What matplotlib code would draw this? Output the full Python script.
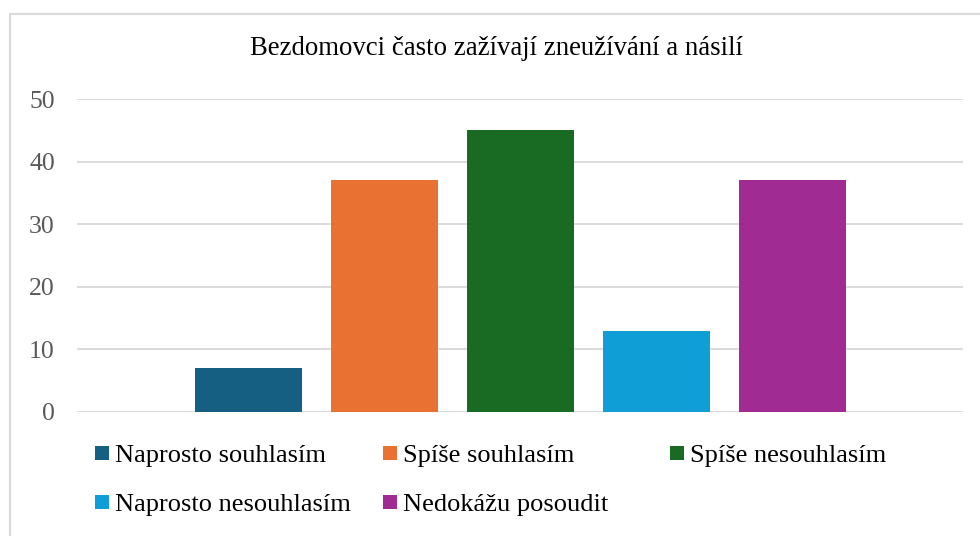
import matplotlib.pyplot as plt
from matplotlib.patches import Rectangle

plt.rcParams['font.family'] = ['Liberation Serif', 'DejaVu Serif']

# data
title = 'Bezdomovci často zažívají zneužívání a násilí'
labels = ['Naprosto souhlasím', 'Spíše souhlasím', 'Spíše nesouhlasím',
          'Naprosto nesouhlasím', 'Nedokážu posoudit']
values = [7, 37, 45, 13, 37]
colors = ['#156082', '#E97132', '#196B24', '#0F9ED5', '#A02B93']
yticks = [0, 10, 20, 30, 40, 50]

W, H = 980, 536
fig = plt.figure(figsize=(W / 100, H / 100), dpi=100)

# chart frame (clipped at right and bottom like the reference)
fig.patches.append(Rectangle((10 / W, -0.1), 1.2, 1 - 14 / H + 0.1,
                             transform=fig.transFigure, fill=False,
                             edgecolor='#d9d9d9', linewidth=1.5))

ax = fig.add_axes([77 / W, 1 - 412 / H, (963 - 77) / W, (412 - 99) / H])
x = list(range(len(values)))
ax.bar(x, values, width=107 / 136, color=colors, zorder=3)
ax.set_xlim(-1.26, 5.25)
ax.set_ylim(0, 50)
ax.set_yticks(yticks)
ax.set_yticklabels([str(t) for t in yticks], fontsize=18.5, color='#595959')
ax.tick_params(axis='y', length=0, pad=16)
ax.set_xticks([])
ax.grid(axis='y', color='#d9d9d9', linewidth=1.3, zorder=0)
for s in ax.spines.values():
    s.set_visible(False)

fig.text(0.5 * (248 + 745) / W, 1 - 55 / H, title, ha='center', va='baseline',
         fontsize=19.3, color='#000000')

# legend, Excel style with equal column widths
col_x = [95, 383, 670]
row_y = [453, 502]
for i, (lab, c) in enumerate(zip(labels, colors)):
    r, k = divmod(i, 3)
    px, py = col_x[k], row_y[r]
    fig.patches.append(Rectangle((px / W, 1 - (py + 7) / H), 14 / W, 14 / H,
                                 transform=fig.transFigure, facecolor=c,
                                 edgecolor='none'))
    fig.text((px + 20) / W, 1 - (py + 9) / H, lab, ha='left', va='baseline',
             fontsize=19, color='#000000')

fig.savefig('out.png', dpi=100)
